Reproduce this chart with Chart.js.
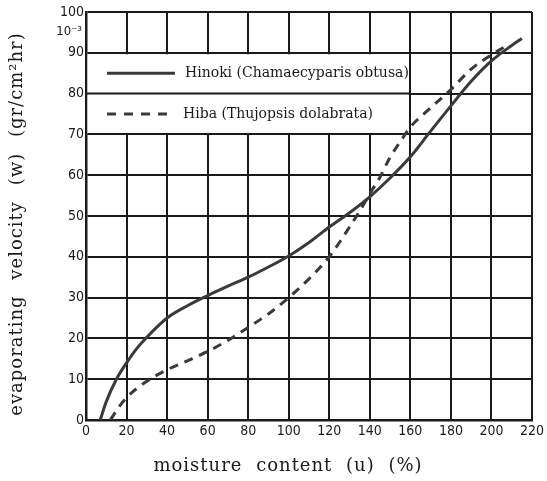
<!DOCTYPE html>
<html>
<head>
<meta charset="utf-8">
<script src="https://cdn.jsdelivr.net/npm/chart.js@4"></script>
<style>
	html, body { margin: 0; padding: 0; background: #fff; }
	#wrap { width: 547px; height: 481px; }
</style>
</head>
<body>
<div id="wrap"><canvas id="moistureChart" width="547" height="481"></canvas></div>
<script>
// moisture content (%) vs evaporating velocity

const hinokiU = [7, 10, 15, 20, 25, 30, 40, 50, 60, 70, 80, 90, 100, 110, 120, 130, 140, 150, 160, 170, 180, 190, 200, 210, 215];
const hinokiW = [0, 4.5, 10, 14, 17.5, 20.3, 25, 28, 30.5, 32.8, 35, 37.5, 40.2, 43.5, 47.3, 50.8, 54.7, 59.3, 64.5, 70.8, 77, 83, 88, 91.8, 93.5];

const hibaU = [12, 16, 20, 30, 40, 50, 60, 70, 80, 90, 100, 110, 120, 125, 130, 135, 140, 145, 150, 155, 160, 170, 180, 190, 200, 206];
const hibaW = [0, 3, 5.5, 9.5, 12.3, 14.5, 16.8, 19.5, 22.7, 26, 30, 34.6, 40, 43.5, 47.3, 51.2, 55.5, 59.5, 64.4, 68.2, 71.8, 76.5, 81, 86, 89.5, 91.3];

const xTicks = [0, 20, 40, 60, 80, 100, 120, 140, 160, 180, 200, 220];
const yTicks = [0, 10, 20, 30, 40, 50, 60, 70, 80, 90, 100];

const legendLabels = ['Hinoki (Chamaecyparis obtusa)', 'Hiba (Thujopsis dolabrata)'];
const xTitle = 'moisture content (u) (%)';
const yTitle = 'evaporating velocity (w) (gr/cm\u00B2hr)';
const yUnit = '10\u207B\u00B3';

const INK = '#1a1a1a';
const LINE = '#3a3a3a';
const SERIF = '"DejaVu Serif", "Liberation Serif", serif';
const NARROW = '"DejaVu Sans Condensed", "Liberation Sans Narrow", "DejaVu Sans", sans-serif';

const toPoints = (xs, ys) => xs.map((x, i) => ({ x: x, y: ys[i] }));

/* -------------------------------------------------------------
 * legend box drawn inside the grid (white panel, lines kept)
 * ------------------------------------------------------------- */
const legendPanel = {
	id: 'legendPanel',
	beforeDatasetsDraw(chart) {
		const { ctx, scales: { x, y } } = chart;
		const left = x.getPixelForValue(0);
		const right = x.getPixelForValue(160);
		const top = y.getPixelForValue(90);
		const mid = y.getPixelForValue(80);
		const bottom = y.getPixelForValue(70);

		ctx.save();
		ctx.fillStyle = '#fff';
		ctx.fillRect(left + 1.5, top + 1.5, right - left - 3, bottom - top - 3);

		ctx.strokeStyle = INK;
		ctx.lineWidth = 2;
		ctx.beginPath();
		ctx.moveTo(left, mid);
		ctx.lineTo(right, mid);
		ctx.stroke();

		const rows = [(top + mid) / 2, (mid + bottom) / 2];
		ctx.strokeStyle = LINE;
		ctx.lineWidth = 3;
		rows.forEach((ry, i) => {
			ctx.setLineDash(i === 0 ? [] : [9, 8]);
			ctx.beginPath();
			ctx.moveTo(left + 21, ry);
			ctx.lineTo(left + 89, ry);
			ctx.stroke();
		});
		ctx.setLineDash([]);

		ctx.fillStyle = INK;
		ctx.font = '14px ' + SERIF;
		ctx.textBaseline = 'middle';
		ctx.fillText(legendLabels[0], left + 99, rows[0]);
		ctx.fillText(legendLabels[1], left + 97, rows[1]);

		// unit note under the top tick
		ctx.font = '13px ' + NARROW;
		ctx.textAlign = 'right';
		ctx.fillText(yUnit, left - 4, 32);
		ctx.restore();
	}
};

/* -------------------------------------------------------------
 * axis titles (spaced out like the printed figure)
 * ------------------------------------------------------------- */
const axisTitles = {
	id: 'axisTitles',
	afterDraw(chart) {
		const { ctx } = chart;
		ctx.save();
		ctx.fillStyle = INK;
		ctx.font = '18px ' + SERIF;
		ctx.textAlign = 'center';
		ctx.textBaseline = 'middle';
		ctx.letterSpacing = '1px';
		ctx.wordSpacing = '7px';
		ctx.fillText(xTitle, 288, 466);

		ctx.wordSpacing = '9px';
		ctx.translate(17, 224);
		ctx.rotate(-Math.PI / 2);
		ctx.fillText(yTitle, 0, 0);
		ctx.restore();
	}
};

const ctx = document.getElementById('moistureChart');

new Chart(ctx, {
	type: 'line',
	data: {
		datasets: [
			{
				label: legendLabels[0],
				data: toPoints(hinokiU, hinokiW),
				borderColor: LINE,
				borderWidth: 3,
				pointRadius: 0,
				cubicInterpolationMode: 'monotone'
			},
			{
				label: legendLabels[1],
				data: toPoints(hibaU, hibaW),
				borderColor: LINE,
				borderWidth: 3,
				borderDash: [9, 7],
				pointRadius: 0,
				cubicInterpolationMode: 'monotone'
			}
		]
	},
	options: {
		responsive: false,
		animation: false,
		layout: { padding: { top: 12, right: 10, left: 0, bottom: 0 } },
		plugins: {
			legend: { display: false },
			tooltip: { enabled: false }
		},
		scales: {
			x: {
				type: 'linear',
				min: 0,
				max: 220,
				afterBuildTicks: (scale) => { scale.ticks = xTicks.map(v => ({ value: v })); },
				afterFit: (scale) => { scale.height = 61; },
				grid: { color: INK, lineWidth: 2, drawTicks: false },
				border: { color: INK, width: 2.5 },
				ticks: {
					color: INK,
					padding: 3,
					font: { family: NARROW, size: 14 },
					maxRotation: 0,
					autoSkip: false
				}
			},
			y: {
				type: 'linear',
				min: 0,
				max: 100,
				afterBuildTicks: (scale) => { scale.ticks = yTicks.map(v => ({ value: v })); },
				afterFit: (scale) => { scale.width = 86; },
				grid: { color: INK, lineWidth: 2, drawTicks: false },
				border: { color: INK, width: 2.5 },
				ticks: {
					color: INK,
					padding: 2,
					font: { family: NARROW, size: 14 }
				}
			}
		}
	},
	plugins: [legendPanel, axisTitles]
});
</script>
</body>
</html>
